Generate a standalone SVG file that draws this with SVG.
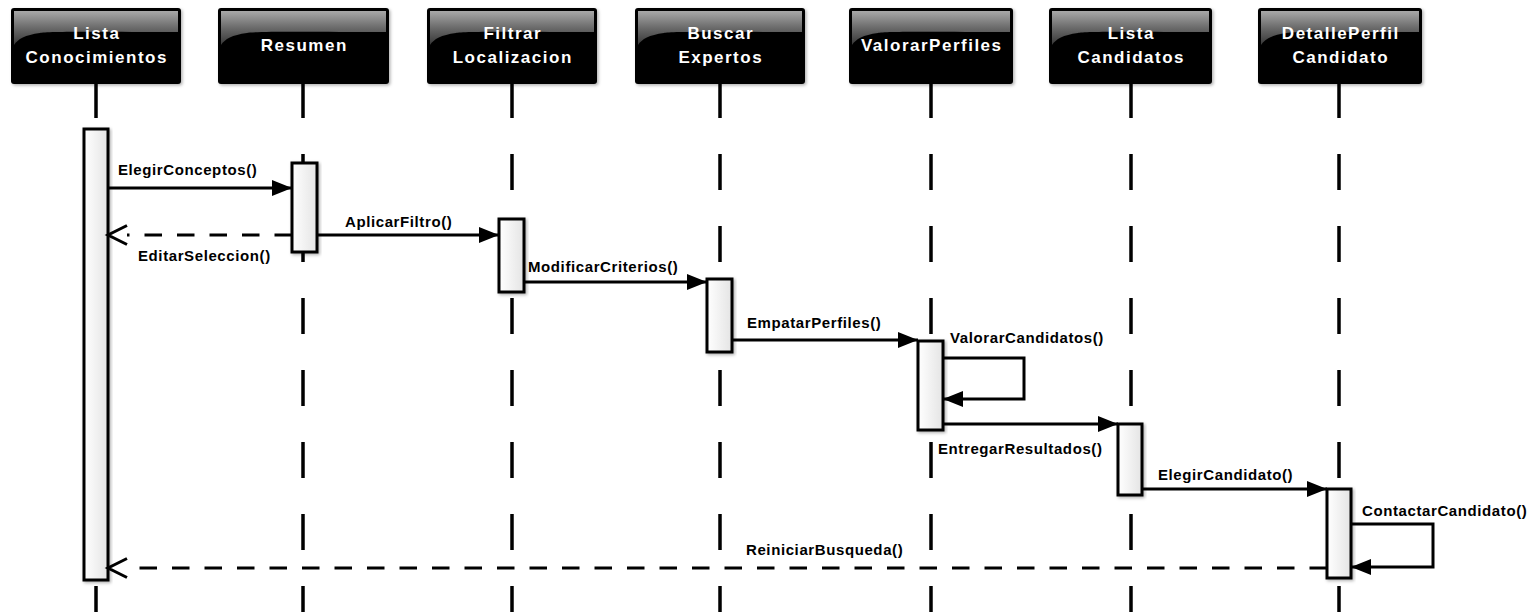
<svg xmlns="http://www.w3.org/2000/svg" width="1539" height="612" viewBox="0 0 1539 612">
  <style>
    .hdr { fill: #000; }
    .htxt { font-family: "Liberation Sans", Arial, sans-serif; font-weight: bold; font-size: 17px; letter-spacing: 1.5px; fill: #fff; text-anchor: middle; }
    .life { stroke: #000; stroke-width: 3.5; stroke-dasharray: 36 36; fill: none; }
    .act { fill: url(#actFill); stroke: #000; stroke-width: 3; filter: url(#shadow); }
    .msg { stroke: #000; stroke-width: 3; fill: none; }
    .call { marker-end: url(#filled); }
    .ret { stroke-dasharray: 17.5 15; marker-end: url(#open); }
    .lbl { font-family: "Liberation Sans", Arial, sans-serif; font-weight: bold; font-size: 15px; letter-spacing: 0.6px; fill: #000; }
  </style>
  <defs>
    <linearGradient id="gloss" x1="0" y1="0" x2="0" y2="1">
      <stop offset="0" stop-color="#a8a8a8"/>
      <stop offset="0.5" stop-color="#6a6a6a"/>
      <stop offset="1" stop-color="#363636"/>
    </linearGradient>
    <linearGradient id="actFill" x1="0" y1="0" x2="1" y2="0">
      <stop offset="0" stop-color="#ffffff"/>
      <stop offset="1" stop-color="#e4e4e4"/>
    </linearGradient>
    <filter id="shadow" x="-20%" y="-20%" width="140%" height="140%">
      <feDropShadow dx="1.5" dy="1.5" stdDeviation="1.5" flood-color="#000" flood-opacity="0.3"/>
    </filter>
    <!-- filled head: tip sits on the line end -->
    <marker id="filled" markerUnits="userSpaceOnUse" markerWidth="22" markerHeight="18" refX="20" refY="8" orient="auto" overflow="visible">
      <path d="M0,0 L20,8 L0,16 Z" fill="#000"/>
    </marker>
    <!-- open head: starts at the line end, tip 19px beyond it -->
    <marker id="open" markerUnits="userSpaceOnUse" markerWidth="22" markerHeight="22" refX="0" refY="9.5" orient="auto" overflow="visible">
      <path d="M0,0 L19,9.5 L0,19" fill="none" stroke="#000" stroke-width="3"/>
    </marker>
  </defs>

  <!-- lifelines -->
  <g id="lifelines">
    <line class="life" x1="96" y1="82" x2="96" y2="612"/>
    <line class="life" x1="303" y1="82" x2="303" y2="612"/>
    <line class="life" x1="512" y1="82" x2="512" y2="612"/>
    <line class="life" x1="720" y1="82" x2="720" y2="612"/>
    <line class="life" x1="931" y1="82" x2="931" y2="612"/>
    <line class="life" x1="1131" y1="82" x2="1131" y2="612"/>
    <line class="life" x1="1339" y1="82" x2="1339" y2="612"/>
  </g>

  <!-- participant headers -->
  <g id="listaConocimientos">
    <rect class="hdr" x="11" y="8" width="170" height="76" rx="3" filter="url(#shadow)"/>
    <path d="M14,11 H178 V32 C120,32 45,31 40,33 C25,35 18,39 14,45 Z" fill="url(#gloss)"/>
    <text class="htxt" x="96.75" y="39">Lista</text>
    <text class="htxt" x="96.75" y="63">Conocimientos</text>
  </g>
  <g id="resumen">
    <rect class="hdr" x="218" y="8" width="171" height="76" rx="3" filter="url(#shadow)"/>
    <path d="M221,11 H386 V32 C327,32 252,31 247,33 C232,35 225,39 221,45 Z" fill="url(#gloss)"/>
    <text class="htxt" x="304.25" y="51">Resumen</text>
  </g>
  <g id="filtrarLocalizacion">
    <rect class="hdr" x="427" y="8" width="170" height="76" rx="3" filter="url(#shadow)"/>
    <path d="M430,11 H594 V32 C536,32 461,31 456,33 C441,35 434,39 430,45 Z" fill="url(#gloss)"/>
    <text class="htxt" x="512.75" y="39">Filtrar</text>
    <text class="htxt" x="512.75" y="63">Localizacion</text>
  </g>
  <g id="buscarExpertos">
    <rect class="hdr" x="635" y="8" width="170" height="76" rx="3" filter="url(#shadow)"/>
    <path d="M638,11 H802 V32 C744,32 669,31 664,33 C649,35 642,39 638,45 Z" fill="url(#gloss)"/>
    <text class="htxt" x="720.75" y="39">Buscar</text>
    <text class="htxt" x="720.75" y="63">Expertos</text>
  </g>
  <g id="valorarPerfiles">
    <rect class="hdr" x="849" y="8" width="164" height="76" rx="3" filter="url(#shadow)"/>
    <path d="M852,11 H1010 V32 C952,32 883,31 878,33 C863,35 856,39 852,45 Z" fill="url(#gloss)"/>
    <text class="htxt" x="931.75" y="51">ValorarPerfiles</text>
  </g>
  <g id="listaCandidatos">
    <rect class="hdr" x="1049" y="8" width="163" height="76" rx="3" filter="url(#shadow)"/>
    <path d="M1052,11 H1209 V32 C1151,32 1083,31 1078,33 C1063,35 1056,39 1052,45 Z" fill="url(#gloss)"/>
    <text class="htxt" x="1131.25" y="39">Lista</text>
    <text class="htxt" x="1131.25" y="63">Candidatos</text>
  </g>
  <g id="detallePerfilCandidato">
    <rect class="hdr" x="1258" y="8" width="164" height="76" rx="3" filter="url(#shadow)"/>
    <path d="M1261,11 H1419 V32 C1361,32 1292,31 1287,33 C1272,35 1265,39 1261,45 Z" fill="url(#gloss)"/>
    <text class="htxt" x="1340.75" y="39">DetallePerfil</text>
    <text class="htxt" x="1340.75" y="63">Candidato</text>
  </g>

  <!-- activation bars -->
  <g id="activations">
    <rect class="act" x="84" y="129" width="24" height="451"/>
    <rect class="act" x="292" y="163" width="25" height="89"/>
    <rect class="act" x="499" y="219" width="25" height="73"/>
    <rect class="act" x="707" y="279" width="25" height="73"/>
    <rect class="act" x="918" y="341" width="25" height="89"/>
    <rect class="act" x="1118" y="424" width="24" height="71"/>
    <rect class="act" x="1327" y="489" width="24" height="89"/>
  </g>

  <!-- messages -->
  <g id="connectors">
    <line class="msg call" x1="108" y1="188" x2="292" y2="188"/>
    <line class="msg ret" x1="292" y1="235" x2="127" y2="235"/>
    <line class="msg call" x1="317" y1="235" x2="499" y2="235"/>
    <line class="msg call" x1="524" y1="282" x2="707" y2="282"/>
    <line class="msg call" x1="732" y1="340" x2="918" y2="340"/>
    <path class="msg call" d="M943,358 H1024 V399 H943"/>
    <line class="msg call" x1="943" y1="424" x2="1118" y2="424"/>
    <line class="msg call" x1="1142" y1="489" x2="1327" y2="489"/>
    <path class="msg call" d="M1351,524 H1433 V567 H1351"/>
    <line class="msg ret" x1="1327" y1="568" x2="127" y2="568"/>
  </g>

  <!-- message labels -->
  <g id="labels">
    <text class="lbl" x="118" y="175">ElegirConceptos()</text>
    <text class="lbl" x="138" y="261">EditarSeleccion()</text>
    <text class="lbl" x="345" y="227">AplicarFiltro()</text>
    <text class="lbl" x="528" y="272">ModificarCriterios()</text>
    <text class="lbl" x="747" y="328">EmpatarPerfiles()</text>
    <text class="lbl" x="950" y="343">ValorarCandidatos()</text>
    <text class="lbl" x="938" y="454">EntregarResultados()</text>
    <text class="lbl" x="1158" y="480">ElegirCandidato()</text>
    <text class="lbl" x="1362" y="516">ContactarCandidato()</text>
    <text class="lbl" x="746" y="555">ReiniciarBusqueda()</text>
  </g>
</svg>
